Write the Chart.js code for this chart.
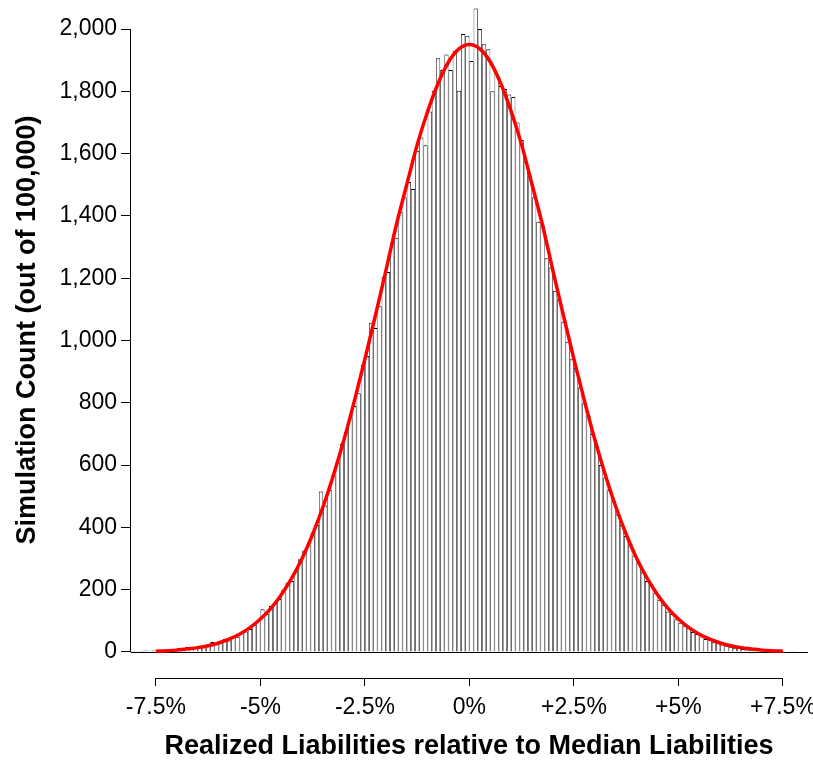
<!DOCTYPE html>
<html>
<head>
<meta charset="utf-8">
<script src="https://cdn.jsdelivr.net/npm/chart.js@4.4.1/dist/chart.umd.min.js"></script>
<style>
  html, body { margin: 0; padding: 0; background: #ffffff; }
  #wrap { width: 813px; height: 760px; }
</style>
</head>
<body>
<div id="wrap"><canvas id="chart" width="813" height="760"></canvas></div>
<script>
// Histogram bins: 0.1 percentage-point wide, first bin starts at -8.1%
const binStart = -8.1;
const binWidth = 0.1;

// Simulation counts per bin, below the median (-8.05% ... -0.05%)
const countsBelowMedian = [
  2, 1, 3, 5, 4, 5, 3, 5, 6, 7,
  9, 14, 10, 16, 13, 17, 20, 19, 24, 32,
  27, 30, 42, 37, 50, 49, 60, 66, 74, 88,
  101, 137, 122, 148, 158, 170, 200, 222, 228, 264,
  298, 326, 345, 384, 408, 515, 470, 520, 570, 612,
  668, 706, 752, 790, 831, 921, 950, 1057, 1040, 1110,
  1205, 1220, 1312, 1330, 1413, 1460, 1509, 1486, 1609, 1652,
  1627, 1735, 1802, 1906, 1868, 1918, 1868, 1930, 1802, 1984,
  1978
];

// Simulation counts per bin, above the median (0.05% ... 8.05%)
const countsAboveMedian = [
  1897, 2066, 2000, 1951, 1935, 1800, 1856, 1817, 1807, 1790,
  1782, 1700, 1644, 1575, 1530, 1460, 1381, 1370, 1264, 1234,
  1160, 1133, 1060, 996, 940, 912, 850, 800, 760, 700,
  660, 600, 560, 520, 485, 442, 408, 372, 348, 310,
  285, 256, 228, 218, 190, 168, 152, 130, 122, 105,
  94, 83, 76, 64, 58, 50, 42, 40, 31, 28,
  24, 20, 17, 14, 12, 10, 8, 6, 5, 4,
  3, 2, 2, 1, 1, 0, 2, 2, 0, 0,
  0
];

// Fitted normal curve, sampled every 0.25% from -7.5% to +7.5%
const curveStart = -7.5;
const curveStep = 0.25;
const curveCounts = [
  2.7, 4, 6, 10, 14, 20, 29, 41, 57, 78,
  106, 140, 184, 237, 301, 378, 467, 569, 682, 807,
  940, 1080, 1223, 1370, 1500, 1628, 1735, 1825, 1894, 1936,
  1950,
  1936, 1894, 1825, 1735, 1628, 1500, 1370, 1223, 1080, 940,
  807, 682, 569, 467, 378, 301, 237, 184, 140, 106,
  78, 57, 41, 29, 20, 14, 10, 6, 4, 2.7
];

// Axis ticks
const xTickValues = [-7.5, -5, -2.5, 0, 2.5, 5, 7.5];
const yTickValues = [0, 200, 400, 600, 800, 1000, 1200, 1400, 1600, 1800, 2000];

const counts = countsBelowMedian.concat(countsAboveMedian);
const histData = counts.map((v, i) => ({ x: binStart + binWidth * (i + 0.5), y: v }));
const curveData = curveCounts.map((v, i) => ({ x: curveStart + curveStep * i, y: v }));

const FONT = "'Liberation Sans', Arial, Helvetica, sans-serif";

function pctLabel(v) {
  if (v === 0) return '0%';
  return (v > 0 ? '+' : '') + v + '%';
}

// R-style axes: lines only span the first to last tick, plus the bar baseline
const rAxes = {
  id: 'rAxes',
  beforeDatasetsDraw(chart) {
    const { ctx, scales: { x, y } } = chart;
    const y0 = Math.round(y.getPixelForValue(0)) + 0.5;
    ctx.save();
    ctx.strokeStyle = '#000';
    ctx.lineWidth = 1;
    ctx.beginPath();
    ctx.moveTo(x.getPixelForValue(binStart), y0);
    ctx.lineTo(x.getPixelForValue(binStart + binWidth * counts.length), y0);
    ctx.stroke();
    ctx.restore();
  },
  afterDraw(chart) {
    const { ctx, chartArea, scales: { x, y } } = chart;
    ctx.save();
    ctx.strokeStyle = '#000';
    ctx.lineWidth = 1;
    const ax = Math.round(chartArea.left) + 0.5;
    ctx.beginPath();
    ctx.moveTo(ax, y.getPixelForValue(yTickValues[0]));
    ctx.lineTo(ax, y.getPixelForValue(yTickValues[yTickValues.length - 1]));
    ctx.stroke();
    const ay = Math.round(chartArea.bottom) + 0.5;
    ctx.beginPath();
    ctx.moveTo(x.getPixelForValue(xTickValues[0]), ay);
    ctx.lineTo(x.getPixelForValue(xTickValues[xTickValues.length - 1]), ay);
    ctx.stroke();

    // vertical axis title
    ctx.translate(28, 330);
    ctx.rotate(-Math.PI / 2);
    ctx.fillStyle = '#000';
    ctx.font = 'bold 27px ' + FONT;
    ctx.textAlign = 'center';
    ctx.textBaseline = 'middle';
    ctx.fillText('Simulation Count (out of 100,000)', 0, 0);
    ctx.restore();
  }
};

new Chart(document.getElementById('chart'), {
  type: 'bar',
  data: {
    datasets: [
      {
        type: 'line',
        data: curveData,
        borderColor: '#ff0000',
        borderWidth: 3.5,
        pointRadius: 0,
        fill: false,
        cubicInterpolationMode: 'monotone',
        order: 0
      },
      {
        type: 'bar',
        data: histData,
        backgroundColor: '#ffffff',
        borderColor: '#000000',
        borderWidth: { top: 1, bottom: 0, left: 0.75, right: 0.75 },
        borderSkipped: false,
        inflateAmount: 0,
        barPercentage: 1,
        categoryPercentage: 1,
        clip: false,
        order: 1
      }
    ]
  },
  options: {
    responsive: false,
    animation: false,
    devicePixelRatio: 1,
    layout: { padding: { left: 0, right: 5, top: 29, bottom: 0 } },
    plugins: { legend: { display: false }, tooltip: { enabled: false } },
    scales: {
      x: {
        type: 'linear',
        offset: false,
        min: -8.12,
        max: 8.1,
        afterFit(scale) {
          scale.height = 82;
          scale.paddingLeft = 0;
          scale.paddingRight = 0;
        },
        afterBuildTicks(scale) { scale.ticks = xTickValues.map(v => ({ value: v })); },
        ticks: {
          callback: v => pctLabel(v),
          autoSkip: false,
          maxRotation: 0,
          color: '#000',
          padding: 8,
          font: { family: FONT, size: 23 }
        },
        grid: { offset: false, drawOnChartArea: false, drawTicks: true, tickLength: 8, color: '#000', lineWidth: 1 },
        border: { display: false },
        title: {
          display: true,
          text: 'Realized Liabilities relative to Median Liabilities',
          color: '#000',
          padding: { top: 0, bottom: 0 },
          font: { family: FONT, size: 27, weight: 'bold', lineHeight: 1 }
        }
      },
      y: {
        min: -83.5,
        max: 2000,
        afterFit(scale) {
          scale.width = 130;
          scale.paddingTop = 0;
          scale.paddingBottom = 0;
        },
        afterBuildTicks(scale) { scale.ticks = yTickValues.map(v => ({ value: v })); },
        ticks: {
          callback: v => v.toLocaleString('en-US'),
          color: '#000',
          padding: 4,
          font: { family: FONT, size: 23 }
        },
        grid: { drawOnChartArea: false, drawTicks: true, tickLength: 9, color: '#000', lineWidth: 1 },
        border: { display: false }
      }
    }
  },
  plugins: [rAxes]
});
</script>
</body>
</html>
